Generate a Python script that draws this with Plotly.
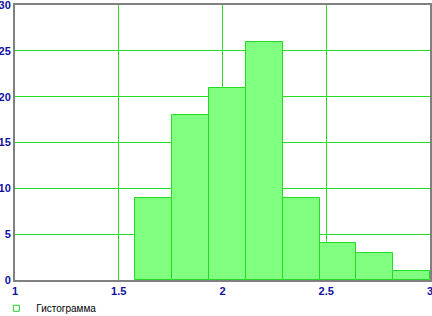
import plotly.graph_objects as go

bin_left = [1.58, 1.7575, 1.935, 2.1125, 2.29, 2.4675, 2.645, 2.8225]
bin_width = 0.1775
counts = [9, 18, 21, 26, 9, 4, 3, 1]
x_ticks = [1, 1.5, 2, 2.5, 3]
x_tick_text = ["1", "1.5", "2", "2.5", "3"]
y_ticks = [0, 5, 10, 15, 20, 25, 30]
series_name = "Гистограмма"

centers = [b + bin_width / 2 for b in bin_left]

fig = go.Figure()
fig.add_trace(go.Bar(
    x=centers, y=counts, width=[bin_width] * len(counts),
    marker=dict(color="#80ff80", line=dict(color="#22dd22", width=1)),
    name=series_name, showlegend=False,
))
fig.add_trace(go.Scatter(
    x=[None], y=[None], mode="markers", name=series_name,
    marker=dict(symbol="square-open", size=6, color="#22cc22", line=dict(width=1)),
    showlegend=True,
))

tick_font = dict(family="Arial, Liberation Sans, sans-serif", size=11, color="#1010a0", weight="bold")

fig.update_layout(
    width=432, height=316,
    margin=dict(l=15, r=2, t=5, b=36, autoexpand=False),
    paper_bgcolor="white", plot_bgcolor="white",
    bargap=0,
    showlegend=True,
    legend=dict(x=-0.045, y=-0.05, xanchor="left", yanchor="top", orientation="h",
                font=dict(family="Arial, Liberation Sans, sans-serif", size=10, color="black"),
                bgcolor="rgba(0,0,0,0)", itemwidth=30),
    xaxis=dict(range=[1, 3], tickvals=x_ticks, ticktext=x_tick_text, automargin=False,
               showgrid=True, gridcolor="#22dd22", gridwidth=1,
               showline=True, linecolor="#808080", linewidth=2, mirror=True,
               zeroline=False, ticks="", ticklen=0, ticklabeloverflow="allow",
               tickfont=tick_font),
    yaxis=dict(range=[0, 30], tickvals=y_ticks, automargin=False,
               showgrid=True, gridcolor="#22dd22", gridwidth=1,
               showline=True, linecolor="#808080", linewidth=2, mirror=True,
               zeroline=False, ticks="", ticklen=0, ticklabeloverflow="allow",
               tickfont=tick_font),
)

fig.write_html("out.html", config={"displayModeBar": False},
               post_script="document.body.style.margin='0';")
